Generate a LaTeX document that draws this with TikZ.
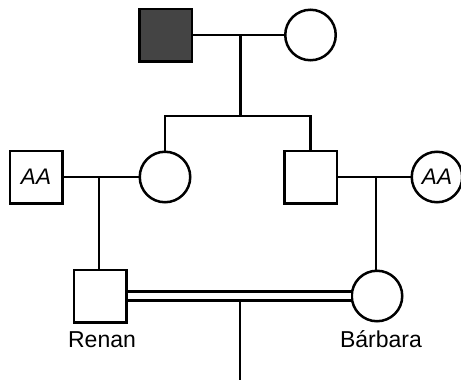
\documentclass[tikz,border=0pt]{standalone}
\usepackage{fontspec}
\setmainfont{Liberation Sans}
\definecolor{affected}{HTML}{444444}
\begin{document}
\begin{tikzpicture}[x=1pt,y=-1pt,
  line width=2.5pt,
  male/.style={draw, rectangle, minimum size=52.5pt, inner sep=0pt},
  female/.style={draw, circle, minimum size=50.5pt, inner sep=0pt},
  lbl/.style={anchor=base, font=\fontsize{23}{27}\selectfont},
  gt/.style={font=\fontsize{22.5}{26}\selectfont\itshape}]
\useasboundingbox (0,0) rectangle (461,380);
% generation I
\node[male, fill=affected] (gf) at (165.5,35) {};
\node[female] (gm) at (310.5,35) {};
% generation II
\node[male, gt] (aa1) at (36,177) {AA};
\node[female] (d) at (165,177) {};
\node[male] (s) at (310.5,177) {};
\node[female, gt] (aa2) at (437,177) {AA};
% generation III
\node[male] (renan) at (100,296) {};
\node[female] (barbara) at (377,296) {};
\node[lbl] (lr) at (102,347) {Renan};
\node[lbl] (lb) at (381,347) {Bárbara};
% coordinates
\coordinate (m1) at (240.5,35);
\coordinate (sib) at (240.5,116);
\coordinate (m2a) at (99,177);
\coordinate (m2b) at (376,177);
\coordinate (m3) at (240,300);
\coordinate (end) at (240,381);
% connectors
\draw (gf) -- (gm);
\draw (m1) -- (sib);
\draw (d.north) |- (sib) -| (s.north);
\draw (aa1) -- (d);
\draw (s) -- (aa2);
\draw (m2a) -- (m2a |- renan.north);
\draw (m2b) -- (m2b |- barbara.north);
\draw[double, double distance=6.5pt] (renan.east) -- (barbara.west);
\draw (m3) -- (end);
\end{tikzpicture}
\end{document}
